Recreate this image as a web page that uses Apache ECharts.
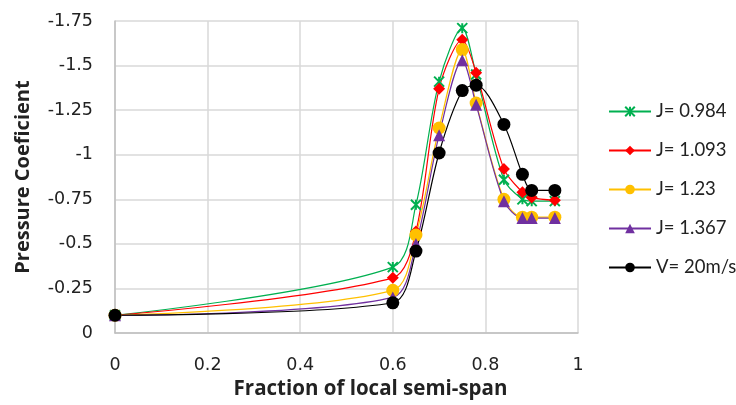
<!DOCTYPE html>
<html><head><meta charset="utf-8">
<script src="https://cdn.jsdelivr.net/npm/echarts@6/dist/echarts.min.js"></script>
<style>html,body{margin:0;padding:0;background:#fff}#c{width:736px;height:405px}</style>
</head><body><div id="c"></div>
<script>
const xs = [0, 0.6, 0.65, 0.7, 0.75, 0.78, 0.84, 0.88, 0.9, 0.95];
const seriesNames = ['J= 0.984', 'J= 1.093', 'J= 1.23', 'J= 1.367', 'V= 20m/s'];
const j0984 = [-0.1, -0.37, -0.72, -1.41, -1.71, -1.45, -0.86, -0.75, -0.74, -0.74];
const j1093 = [-0.1, -0.31, -0.57, -1.37, -1.645, -1.46, -0.92, -0.79, -0.76, -0.745];
const j123  = [-0.1, -0.24, -0.55, -1.15, -1.59, -1.29, -0.75, -0.65, -0.65, -0.65];
const j1367 = [-0.1, -0.2, -0.5, -1.11, -1.53, -1.28, -0.74, -0.645, -0.645, -0.645];
const v20   = [-0.1, -0.17, -0.46, -1.01, -1.36, -1.39, -1.17, -0.89, -0.80, -0.80];
const xTicks = ['0', '0.2', '0.4', '0.6', '0.8', '1'];
const yTicks = ['-1.75', '-1.5', '-1.25', '-1', '-0.75', '-0.5', '-0.25', '0'];

const colors = ['#00b050', '#ff0000', '#ffc000', '#7030a0', '#000000'];
const symbols = ['path://M0 0L10 10M10 0L0 10M5 0L5 10', 'diamond', 'circle', 'triangle', 'circle'];
const sizes = [10, 12, 13, 12, 13];
const allVals = [j0984, j1093, j123, j1367, v20];
const font = '"DejaVu Sans", sans-serif';
const legendFont = 'Lato, "Open Sans", sans-serif';
const titleFont = '"Open Sans", Lato, sans-serif';

const chart = echarts.init(document.getElementById('c'));
chart.setOption({
  animation: false,
  grid: { left: 115, right: 158, top: 21, bottom: 69 },
  legend: {
    orient: 'vertical', left: 603, top: 97,
    itemWidth: 42, itemHeight: 12, itemGap: 20,
    textStyle: { fontFamily: legendFont, fontSize: 18.5, color: '#222' },
    data: seriesNames
  },
  xAxis: {
    type: 'value', min: 0, max: 1, interval: 0.2,
    name: 'Fraction of local semi-span', nameLocation: 'middle', nameGap: 44,
    nameTextStyle: { fontFamily: titleFont, fontSize: 20.5, fontWeight: 'bold', color: '#222', padding: [0, 0, 0, 48] },
    axisLine: { lineStyle: { color: '#bfbfbf', width: 1.5 } },
    axisTick: { show: false },
    axisLabel: { fontFamily: font, fontSize: 17.5, color: '#222', margin: 23,
      formatter: v => xTicks[Math.round(v / 0.2)] },
    splitLine: { lineStyle: { color: '#d9d9d9', width: 1.5 } }
  },
  yAxis: {
    type: 'value', min: -1.75, max: 0, interval: 0.25, inverse: true,
    name: 'Pressure Coeficient', nameLocation: 'middle', nameGap: 82, nameRotate: 90,
    nameTextStyle: { fontFamily: titleFont, fontSize: 20, fontWeight: 'bold', color: '#222' },
    axisLine: { show: true, lineStyle: { color: '#bfbfbf', width: 1.5 } },
    axisTick: { show: false },
    axisLabel: { fontFamily: font, fontSize: 17.5, color: '#222', margin: 22,
      formatter: v => yTicks[Math.round((v + 1.75) / 0.25)] },
    splitLine: { lineStyle: { color: '#d9d9d9', width: 1.5 } }
  },
  series: seriesNames.map((n, i) => ({
    name: n, type: 'line', smooth: 0.3,
    data: xs.map((x, k) => [x, allVals[i][k]]),
    symbol: symbols[i], symbolSize: sizes[i], showSymbol: true,
    lineStyle: { color: colors[i], width: 1.2 },
    itemStyle: i === 0 ? { color: colors[i], borderColor: colors[i], borderWidth: 2 } : { color: colors[i], borderWidth: 0 }
  }))
});
</script></body></html>
